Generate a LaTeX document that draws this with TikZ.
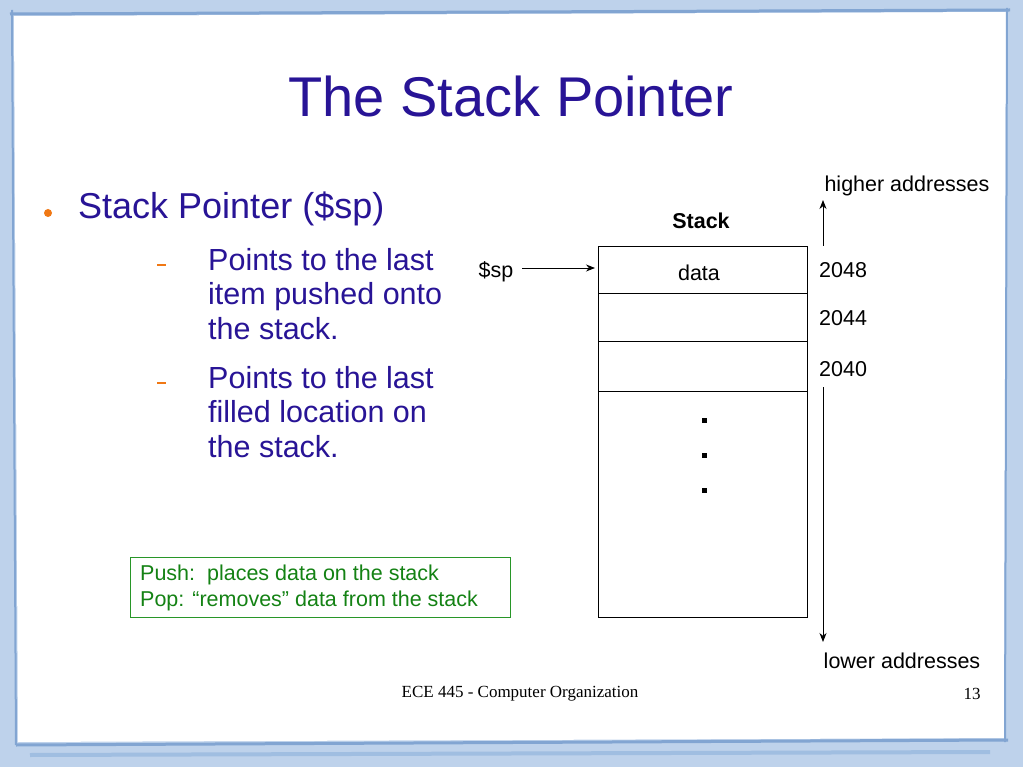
\documentclass[tikz,border=0pt]{standalone}
\usepackage{fontspec}
\setmainfont{Liberation Sans}
\newfontfamily\serifft{Liberation Serif}
\usetikzlibrary{arrows.meta}
\definecolor{bgA}{RGB}{190,210,235}
\definecolor{bgB}{RGB}{130,165,210}
\definecolor{bgC}{RGB}{160,190,225}
\definecolor{ttl}{RGB}{40,20,150}
\definecolor{orng}{RGB}{240,120,20}
\definecolor{gline}{RGB}{40,150,40}
\definecolor{gtext}{RGB}{20,130,20}
\begin{document}
\begin{tikzpicture}[x=1pt,y=-1pt,
  lbl/.style={font=\fontsize{21.5}{24}\selectfont,inner sep=0pt},
  ttx/.style={text=ttl},
  arr/.style={-{Stealth[length=9pt,width=7pt]},line width=0.9pt}]
\useasboundingbox (0,0) rectangle (1023,767);
\fill[bgA] (0,0) rectangle (1023,767);
\fill[white] (14,16) -- (1006,12) -- (1004,738) -- (18,742) -- cycle;
\draw[line width=3pt,bgB] (10,14) -- (1010,10);
\draw[line width=3pt,bgB] (16,745) -- (1008,740);
\draw[line width=2pt,bgB] (12,10) -- (16,745);
\draw[line width=2pt,bgB] (1007,8) -- (1005,742);
\draw[line width=4pt,bgC] (30,755) -- (990,752);
\node[ttx,font=\fontsize{56}{60}\selectfont,anchor=base] (title) at (511,117) {The Stack Pointer};
\node[circle,fill=orng,inner sep=0pt,minimum size=8pt] (b1) at (48,213) {};
\node[ttx,font=\fontsize{36}{40}\selectfont,anchor=base west,inner sep=0pt] (t1) at (78,219) {Stack Pointer (\$sp)};
\node[fill=orng,inner sep=0pt,minimum width=9pt,minimum height=1.2pt] (d1) at (161,265) {};
\node[fill=orng,inner sep=0pt,minimum width=9pt,minimum height=1.2pt] (d2) at (161,383) {};
\node[ttx,font=\fontsize{30.5}{34.5}\selectfont,anchor=north west,inner sep=0pt,align=left] (s1) at (208,248) {Points to the last\\item pushed onto\\the stack.};
\node[ttx,font=\fontsize{30.5}{34.5}\selectfont,anchor=north west,inner sep=0pt,align=left] (s2) at (208,366) {Points to the last\\filled location on\\the stack.};
\draw[line width=0.8pt] (598,246) rectangle (807,617);
\draw[line width=0.8pt] (598,293) -- (807,293) (598,341) -- (807,341) (598,391) -- (807,391);
\node[lbl] (data) at (699,273) {data};
\node[lbl,font=\bfseries\fontsize{21.5}{24}\selectfont] (stk) at (701,221) {Stack};
\foreach \y in {420,455,490} \fill (701.5,\y-2.5) rectangle (706.5,\y+2.5);
\node[lbl] (sp) at (496,272) {\$sp};
\coordinate (sp0) at (522,268);
\coordinate (sparr) at (595,268);
\draw[arr] (sp0) -- (sparr);
\node[lbl,anchor=west] (a48) at (819,270) {2048};
\node[lbl,anchor=west] (a44) at (819,318) {2044};
\node[lbl,anchor=west] (a40) at (819,369) {2040};
\node[lbl] (hi) at (907,186) {higher addresses};
\node[lbl] (lo) at (902,661) {lower addresses};
\coordinate (u1) at (823,246); \coordinate (u2) at (823,200);
\draw[arr] (u1) -- (u2);
\coordinate (w1) at (823,387); \coordinate (w2) at (823,642);
\draw[arr] (w1) -- (w2);
\node[draw=gline,line width=0.8pt,minimum width=380pt,minimum height=60pt,anchor=north west] (gb) at (130,557) {};
\node[text=gtext,font=\fontsize{21.5}{26}\selectfont,anchor=west,align=left,inner sep=0pt] (gt) at (140,588) {Push:\ \ places data on the stack\\Pop: “removes” data from the stack};
\node[font=\serifft\fontsize{17}{20}\selectfont] (foot) at (520,694) {ECE 445 - Computer Organization};
\node[font=\serifft\fontsize{17}{20}\selectfont] (num) at (972,694) {13};
\end{tikzpicture}
\end{document}
